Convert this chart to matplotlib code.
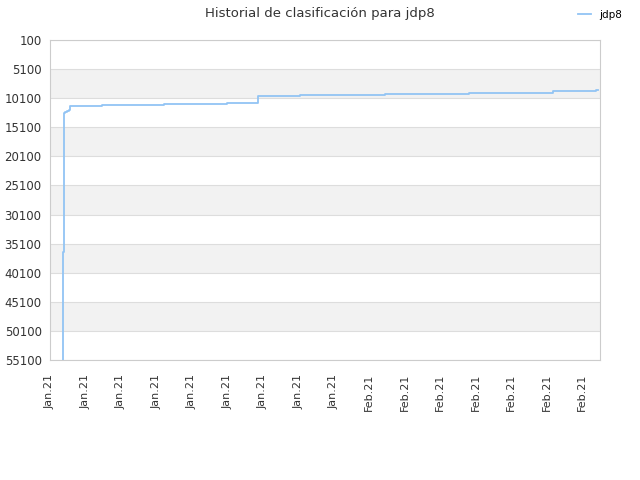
import numpy as np
import matplotlib
matplotlib.use("Agg")
import matplotlib.pyplot as plt

# Ranking history (x in tick units, rank values)
x_pos = [0.367, 0.38, 0.395, 0.423, 0.479, 0.536, 0.564, 1.466, 3.214,
         4.99, 5.864, 7.048, 9.445, 11.81, 14.18, 15.39, 15.45]
ranks = [58000, 36600, 12650, 12480, 12300, 12130, 11445, 11220, 11050,
         10880, 9675, 9500, 9330, 9160, 8950, 8700, 8700]

tick_labels = ["Jan.21"] * 9 + ["Feb.21"] * 7
y_ticks = list(range(100, 55101, 5000))


def main():
    fig = plt.figure(figsize=(6.4, 4.8), dpi=100)
    ax = fig.add_axes([50 / 640, 120 / 480, 550 / 640, 320 / 480])

    # Alternating bands
    for i in range(len(y_ticks) - 1):
        if i % 2 == 1:
            ax.axhspan(y_ticks[i], y_ticks[i + 1], color="#f2f2f2", zorder=0, lw=0)
    for yv in y_ticks:
        ax.axhline(yv, color="#dddddd", lw=0.8, zorder=1)

    ax.step(x_pos, ranks, where="post", color="#92c4f4", lw=1.3,
            label="jdp8", zorder=3)

    ax.set_ylim(55100, 100)
    ax.set_xlim(0, 15.5)
    ax.set_yticks(y_ticks)
    ax.set_yticklabels([str(v) for v in y_ticks], fontsize=8.5, color="#333333")
    ax.set_xticks(np.arange(len(tick_labels)))
    ax.set_xticklabels(tick_labels, rotation=90, fontsize=8, color="#333333")
    ax.tick_params(axis="y", length=0, pad=6)
    ax.tick_params(axis="x", length=0, pad=10)

    for s in ax.spines.values():
        s.set_color("#cccccc")

    fig.text(0.5, 1 - 13 / 480, "Historial de clasificación para jdp8",
             ha="center", va="center", fontsize=9.5, color="#333333")
    ax.legend(loc="center", bbox_to_anchor=(1.0, 1 + 25 / 320),
              frameon=False, fontsize=7.5, handlelength=1.2)

    fig.savefig("out.png", dpi=100)


if __name__ == "__main__":
    main()
